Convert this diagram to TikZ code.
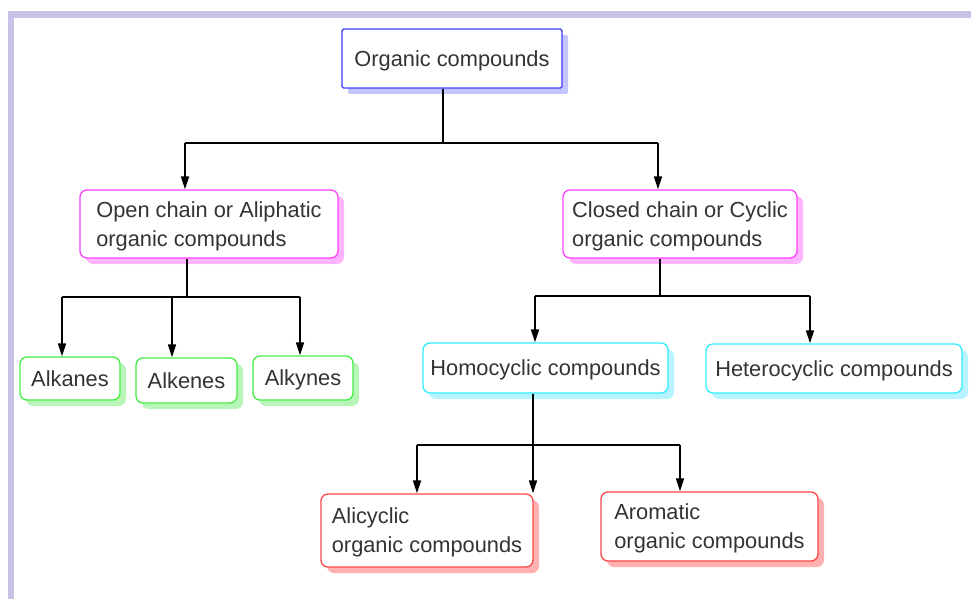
\documentclass[tikz,border=0pt]{standalone}
\usepackage{fontspec}
\setmainfont{Liberation Sans}
\usetikzlibrary{arrows.meta,shadows}
\definecolor{framec}{HTML}{C8C2E6}
\definecolor{blueb}{HTML}{3C3CFF}
\definecolor{blues}{HTML}{C4C4FF}
\definecolor{magb}{HTML}{FF40FF}
\definecolor{mags}{HTML}{FFB4FF}
\definecolor{greenb}{HTML}{44EE44}
\definecolor{greens}{HTML}{B8F5B8}
\definecolor{cyanb}{HTML}{30EEFF}
\definecolor{cyans}{HTML}{B8F4FF}
\definecolor{redb}{HTML}{FF4848}
\definecolor{reds}{HTML}{FFB0B0}
\tikzset{
    box/.style 2 args={draw=#1, line width=1.3pt, fill=white, rounded corners=7pt,
        text=black!80, font=\fontsize{21.8}{29}\selectfont, align=left, inner sep=0pt,
        text depth=0pt, drop shadow={shadow xshift=6pt, shadow yshift=-6pt, opacity=1, fill=#2}},
    link/.style={line width=1.5pt},
    arr/.style={link, -{Triangle[length=13pt, width=8pt]}}
}

\begin{document}
\begin{tikzpicture}[x=1pt, y=-1pt]
	\useasboundingbox (0,0) rectangle (971,599);
	\fill[framec] (8,11) rectangle (971,18);
	\fill[framec] (8,11) rectangle (14,599);
	\node [box={blueb}{blues}, rounded corners=1.5pt, minimum width=220pt, minimum height=59pt] (org) at (452,58.5) {Organic compounds};
	\node [box={magb}{mags}, minimum width=258pt, minimum height=68pt] (aliph) at (209,224) {Open chain or Aliphatic\\organic compounds};
	\node [box={magb}{mags}, minimum width=234pt, minimum height=68pt] (cyc) at (680,224) {Closed chain or Cyclic\\organic compounds};
	\node [box={greenb}{greens}, minimum width=100pt, minimum height=43pt] (alkanes) at (70,378.5) {Alkanes};
	\node [box={greenb}{greens}, minimum width=101pt, minimum height=45pt] (alkenes) at (186.5,380.5) {Alkenes};
	\node [box={greenb}{greens}, minimum width=100pt, minimum height=44pt] (alkynes) at (303,378) {Alkynes};
	\node [box={cyanb}{cyans}, minimum width=245pt, minimum height=50pt] (homo) at (545.5,368) {Homocyclic compounds};
	\node [box={cyanb}{cyans}, minimum width=256pt, minimum height=49pt] (hetero) at (834,368.5) {Heterocyclic compounds};
	\node [box={redb}{reds}, minimum width=212pt, minimum height=73pt] (alicyc) at (427,530.5) {Alicyclic\\organic compounds};
	\node [box={redb}{reds}, minimum width=217pt, minimum height=69pt] (arom) at (709.5,526.5) {Aromatic\\organic compounds};
	\coordinate (t0) at (443,143);
	\coordinate (b0l) at (185,143);
	\coordinate (b0r) at (658,143);
	\draw[link] (t0 |- org.south) -- (t0);
	\draw[link] (b0l) -- (b0r);
	\draw[arr] (b0l) -- (b0l |- aliph.north);
	\draw[arr] (b0r) -- (b0r |- cyc.north);
	\coordinate (t1) at (187,297);
	\coordinate (b1l) at (62,297);
	\coordinate (b1m) at (172,297);
	\coordinate (b1r) at (300,297);
	\draw[link] (t1 |- aliph.south) -- (t1);
	\draw[link] (b1l) -- (b1r);
	\draw[arr] (b1l) -- (b1l |- alkanes.north);
	\draw[arr] (b1m) -- (b1m |- alkenes.north);
	\draw[arr] (b1r) -- (b1r |- alkynes.north);
	\coordinate (t2) at (660,296);
	\coordinate (b2l) at (535,296);
	\coordinate (b2r) at (810,296);
	\draw[link] (t2 |- cyc.south) -- (t2);
	\draw[link] (b2l) -- (b2r);
	\draw[arr] (b2l) -- (b2l |- homo.north);
	\draw[arr] (b2r) -- (b2r |- hetero.north);
	\coordinate (t3) at (533,445);
	\coordinate (b3l) at (417,445);
	\coordinate (b3r) at (680,445);
	\draw[link] (t3 |- homo.south) -- (t3);
	\draw[link] (b3l) -- (b3r);
	\draw[arr] (b3l) -- (b3l |- alicyc.north);
	\draw[arr] (t3) -- (t3 |- alicyc.north);
	\draw[arr] (b3r) -- (b3r |- arom.north);
\end{tikzpicture}
\end{document}
